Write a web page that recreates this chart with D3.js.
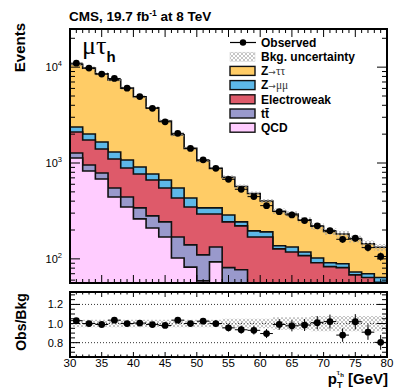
<!DOCTYPE html>
<html>
<head>
<meta charset="utf-8">
<script src="https://cdn.jsdelivr.net/npm/d3@7"></script>
<style>
body { margin: 0; background: #fff; }
svg { display: block; font-family: "Liberation Sans", Arial, sans-serif; }
</style>
</head>
<body>
<div id="chart"></div>
<script>
// bins of tau pT (lower edges, 2 GeV wide)
var binLow = [30,32,34,36,38,40,42,44,46,48,50,52,54,56,58,60,62,64,66,68,70,72,74,76,78];
var observed = [11000,9770,8460,7620,6040,4930,3720,2690,2040,1420,1080,880,676,532,446,359,311,287,251,221,197,160,164,131,106];
// background processes, stacked bottom -> top
var qcd   = [1127,826,681,442,348,261,210,169,102,82,59,93,47,42,30,30,20,20,18,15,14,12,12,10,10];
var ttbar = [144,127,106,107,94,79,71,74,67,58,51,40,34,35,20,18,20,18,16,15,14,12,12,10,10];
var ewk   = [832,785,612,552,445,428,384,306,263,208,184,161,162,144,119,121,87,80,74,61,55,57,44,44,37];
var zmm   = [268,267,256,201,188,141,103,116,117,84,46,46,44,22,27,22,10,15,10,11,8,8,5,6,7];
var ztt   = [8309,7765,6890,6058,4965,3996,2992,2080,1421,988,714,540,421,326,284,210,177,161,137,117,102,93,88,74,68];
// stat error on obs/bkg and relative bkg uncertainty
var ratioErr = [0.010,0.010,0.011,0.012,0.013,0.014,0.016,0.019,0.023,0.027,0.031,0.034,0.037,0.041,0.044,0.047,0.056,0.058,0.062,0.068,0.073,0.070,0.080,0.080,0.078];
var bkgUnc = [0.04,0.04,0.04,0.04,0.04,0.04,0.04,0.04,0.04,0.04,0.04,0.04,0.05,0.05,0.05,0.05,0.065,0.065,0.065,0.08,0.08,0.08,0.08,0.08,0.08];

var xTicksMajor = [30,35,40,45,50,55,60,65,70,75,80];
var yTicksMajor = [100,1000,10000];
var ratioTicks = [0.8,1.0,1.2];

var W = 407, H = 391;
var L = 70, R = 387, T1 = 29, B1 = 283, T2 = 292, B2 = 357;

var svg = d3.select("#chart").append("svg").attr("width", W).attr("height", H);

var defs = svg.append("defs");
var pat = defs.append("pattern").attr("id", "hatch").attr("patternUnits", "userSpaceOnUse")
    .attr("width", 4).attr("height", 4);
pat.append("path").attr("d", "M0,0 L4,4 M4,0 L0,4").attr("stroke", "#a0a0a0").attr("stroke-width", 0.6);
defs.append("clipPath").attr("id", "clipMain").append("rect")
    .attr("x", L).attr("y", T1).attr("width", R - L).attr("height", B1 - T1);
defs.append("clipPath").attr("id", "clipRatio").append("rect")
    .attr("x", L).attr("y", T2).attr("width", R - L).attr("height", B2 - T2);

var x = d3.scaleLinear().domain([30, 80]).range([L, R]);
var y = d3.scaleLog().domain([56, 25000]).range([B1, T1]).clamp(true);
var ry = d3.scaleLinear().domain([0.65, 1.33]).range([B2, T2]);

var keys = ["qcd", "ttbar", "ewk", "zmm", "ztt"];
var colors = { qcd: "#FFCCFF", ttbar: "#9999CC", ewk: "#DE5A6A", zmm: "#5DB8E8", ztt: "#FFCC66" };
var rows = binLow.map(function (b, i) {
    return { lo: b, qcd: qcd[i], ttbar: ttbar[i], ewk: ewk[i], zmm: zmm[i], ztt: ztt[i] };
});
var series = d3.stack().keys(keys)(rows);
var total = series[series.length - 1].map(function (d) { return d[1]; });

// step points: one per bin lower edge plus closing point at 80
function steps(vals) {
    var pts = binLow.map(function (b, i) { return [b, vals[i]]; });
    pts.push([80, vals[vals.length - 1]]);
    return pts;
}

var main = svg.append("g").attr("clip-path", "url(#clipMain)");

var area = d3.area().curve(d3.curveStepAfter)
    .x(function (d) { return x(d[0]); })
    .y0(B1)
    .y1(function (d) { return y(Math.max(d[1], 1)); });
var line = d3.line().curve(d3.curveStepAfter)
    .x(function (d) { return x(d[0]); })
    .y(function (d) { return y(Math.max(d[1], 1)); });

// draw cumulative histograms from the top of the stack down
series.slice().reverse().forEach(function (s) {
    var cum = s.map(function (d) { return d[1]; });
    main.append("path").datum(steps(cum)).attr("d", area).attr("fill", colors[s.key]);
    main.append("path").datum(steps(cum)).attr("d", line)
        .attr("fill", "none").attr("stroke", "#111").attr("stroke-width", 1.6);
});

// bkg uncertainty band
var band = d3.area().curve(d3.curveStepAfter)
    .x(function (d) { return x(d[0]); })
    .y0(function (d) { return y(d[1] * (1 - d[2])); })
    .y1(function (d) { return y(d[1] * (1 + d[2])); });
var bandPts = binLow.map(function (b, i) { return [b, total[i], bkgUnc[i]]; });
bandPts.push([80, total[total.length - 1], bkgUnc[bkgUnc.length - 1]]);
main.append("path").datum(bandPts).attr("d", band).attr("fill", "url(#hatch)");

// observed points
binLow.forEach(function (b, i) {
    var cx = x(b + 1), cy = y(observed[i]);
    var e = ratioErr[i] * total[i];
    main.append("line").attr("x1", x(b)).attr("x2", x(b + 2)).attr("y1", cy).attr("y2", cy)
        .attr("stroke", "#000").attr("stroke-width", 1);
    main.append("line").attr("x1", cx).attr("x2", cx).attr("y1", y(observed[i] - e)).attr("y2", y(observed[i] + e))
        .attr("stroke", "#000").attr("stroke-width", 1);
    main.append("circle").attr("cx", cx).attr("cy", cy).attr("r", 3.4).attr("fill", "#000");
});

// ratio panel
var rp = svg.append("g").attr("clip-path", "url(#clipRatio)");
ratioTicks.forEach(function (t) {
    rp.append("line").attr("x1", L).attr("x2", R).attr("y1", ry(t)).attr("y2", ry(t))
        .attr("stroke", "#000").attr("stroke-width", 0.8).attr("stroke-dasharray", "1,2");
});
var rband = d3.area().curve(d3.curveStepAfter)
    .x(function (d) { return x(d[0]); })
    .y0(function (d) { return ry(1 - d[2]); })
    .y1(function (d) { return ry(1 + d[2]); });
rp.append("path").datum(bandPts).attr("d", rband).attr("fill", "url(#hatch)");
binLow.forEach(function (b, i) {
    var r = observed[i] / total[i];
    var cx = x(b + 1), cy = ry(r);
    rp.append("line").attr("x1", x(b)).attr("x2", x(b + 2)).attr("y1", cy).attr("y2", cy)
        .attr("stroke", "#000").attr("stroke-width", 1);
    rp.append("line").attr("x1", cx).attr("x2", cx).attr("y1", ry(r - ratioErr[i])).attr("y2", ry(r + ratioErr[i]))
        .attr("stroke", "#000").attr("stroke-width", 1);
    rp.append("circle").attr("cx", cx).attr("cy", cy).attr("r", 3.4).attr("fill", "#000");
});

// ticks
var tk = svg.append("g").attr("stroke", "#000").attr("stroke-width", 1);
d3.range(30, 81, 1).forEach(function (v) {
    var major = xTicksMajor.indexOf(v) >= 0;
    var len = major ? 8 : 4;
    [[T1, 1], [B1, -1]].forEach(function (p) {
        tk.append("line").attr("x1", x(v)).attr("x2", x(v)).attr("y1", p[0]).attr("y2", p[0] + p[1] * len);
    });
    var len2 = major ? 5 : 2.5;
    [[T2, 1], [B2, -1]].forEach(function (p) {
        tk.append("line").attr("x1", x(v)).attr("x2", x(v)).attr("y1", p[0]).attr("y2", p[0] + p[1] * len2);
    });
});
y.ticks().forEach(function (v) {
    var major = yTicksMajor.indexOf(v) >= 0;
    var len = major ? 10 : 5;
    tk.append("line").attr("x1", L).attr("x2", L + len).attr("y1", y(v)).attr("y2", y(v));
    tk.append("line").attr("x1", R).attr("x2", R - len).attr("y1", y(v)).attr("y2", y(v));
});
d3.range(0.7, 1.33, 0.05).forEach(function (v) {
    var major = ratioTicks.some(function (t) { return Math.abs(t - v) < 1e-6; });
    var len = major ? 10 : 5;
    tk.append("line").attr("x1", L).attr("x2", L + len).attr("y1", ry(v)).attr("y2", ry(v));
    tk.append("line").attr("x1", R).attr("x2", R - len).attr("y1", ry(v)).attr("y2", ry(v));
});

// frames
svg.append("rect").attr("x", L).attr("y", T1).attr("width", R - L).attr("height", B1 - T1)
    .attr("fill", "none").attr("stroke", "#000").attr("stroke-width", 2);
svg.append("rect").attr("x", L).attr("y", T2).attr("width", R - L).attr("height", B2 - T2)
    .attr("fill", "none").attr("stroke", "#000").attr("stroke-width", 2);

// tick labels
yTicksMajor.forEach(function (v) {
    var t = svg.append("text").attr("x", 62).attr("y", y(v) + 4).attr("text-anchor", "end")
        .attr("font-size", 11).attr("fill", "#000");
    t.append("tspan").text("10");
    t.append("tspan").attr("dy", -5).attr("font-size", 7.5).text(Math.round(Math.log10(v)));
});
ratioTicks.forEach(function (v) {
    svg.append("text").attr("x", 63).attr("y", ry(v) + 4).attr("text-anchor", "end")
        .attr("font-size", 11).text(d3.format(".1f")(v));
});
xTicksMajor.forEach(function (v) {
    svg.append("text").attr("x", x(v)).attr("y", 367).attr("text-anchor", "middle")
        .attr("font-size", 11.5).text(v);
});

// titles
var title = svg.append("text").attr("x", 69).attr("y", 21).attr("font-size", 13.5).attr("font-weight", "bold");
title.append("tspan").text("CMS, 19.7 fb");
title.append("tspan").attr("dy", -5).attr("font-size", 8.5).text("-1");
title.append("tspan").attr("dy", 5).text(" at 8 TeV");

svg.append("text").attr("transform", "translate(25,23) rotate(-90)").attr("text-anchor", "end")
    .attr("font-size", 15).attr("font-weight", "bold").text("Events");
svg.append("text").attr("transform", "translate(26,322) rotate(-90)").attr("text-anchor", "middle")
    .attr("font-size", 14).attr("font-weight", "bold").text("Obs/Bkg");

var xl = svg.append("text").attr("x", 388).attr("y", 384).attr("text-anchor", "end")
    .attr("font-size", 15).attr("font-weight", "bold");
xl.append("tspan").text("p");
xl.append("tspan").attr("dy", 4).attr("font-size", 9).text("T");
xl.append("tspan").attr("dy", -13).attr("dx", -6).attr("font-size", 9).attr("font-weight", "normal")
    .attr("font-family", "Liberation Serif").text("τ");
xl.append("tspan").attr("dy", 2).attr("font-size", 6).text("h");
xl.append("tspan").attr("dy", 7).text(" [GeV]");

var chan = svg.append("text").attr("x", 82).attr("y", 54).attr("font-size", 26)
    .attr("font-family", "Liberation Serif").text("μτ");
chan.append("tspan").attr("dy", 8).attr("font-size", 15).attr("font-weight", "bold")
    .attr("font-family", "Liberation Sans, Arial, sans-serif").text("h");

// legend
var legItems = [
    { kind: "obs", label: ["Observed"] },
    { kind: "band", label: ["Bkg. uncertainty"] },
    { kind: "ztt", label: ["Z", "ττ"] },
    { kind: "zmm", label: ["Z", "μμ"] },
    { kind: "ewk", label: ["Electroweak"] },
    { kind: "ttbar", label: ["tt\u0304"] },
    { kind: "qcd", label: ["QCD"] }
];
var leg = svg.append("g");
legItems.forEach(function (it, i) {
    var cy = 42.5 + i * 14.2;
    if (it.kind === "obs") {
        leg.append("line").attr("x1", 230).attr("x2", 256).attr("y1", cy).attr("y2", cy)
            .attr("stroke", "#000").attr("stroke-width", 1.2);
        leg.append("circle").attr("cx", 243).attr("cy", cy).attr("r", 3.2).attr("fill", "#000");
    } else if (it.kind === "band") {
        leg.append("rect").attr("x", 230).attr("y", cy - 4.5).attr("width", 25).attr("height", 9)
            .attr("fill", "url(#hatch)").attr("stroke", "#ccc").attr("stroke-width", 0.5);
    } else {
        leg.append("rect").attr("x", 230).attr("y", cy - 4.5).attr("width", 25).attr("height", 9)
            .attr("fill", colors[it.kind]).attr("stroke", "#111").attr("stroke-width", 1.4);
    }
    var t = leg.append("text").attr("x", 261).attr("y", cy + 4.3).attr("font-size", 12).attr("font-weight", "bold");
    t.append("tspan").text(it.label[0]);
    if (it.label.length > 1) {
        t.append("tspan").attr("font-weight", "normal").attr("font-family", "DejaVu Sans")
            .attr("font-size", 9).attr("fill", "#444").text("→");
        t.append("tspan").attr("font-weight", "normal").attr("font-family", "Liberation Serif")
            .attr("font-size", 11.5).attr("fill", "#333").text(it.label[1]);
    }
});
</script>
</body>
</html>
